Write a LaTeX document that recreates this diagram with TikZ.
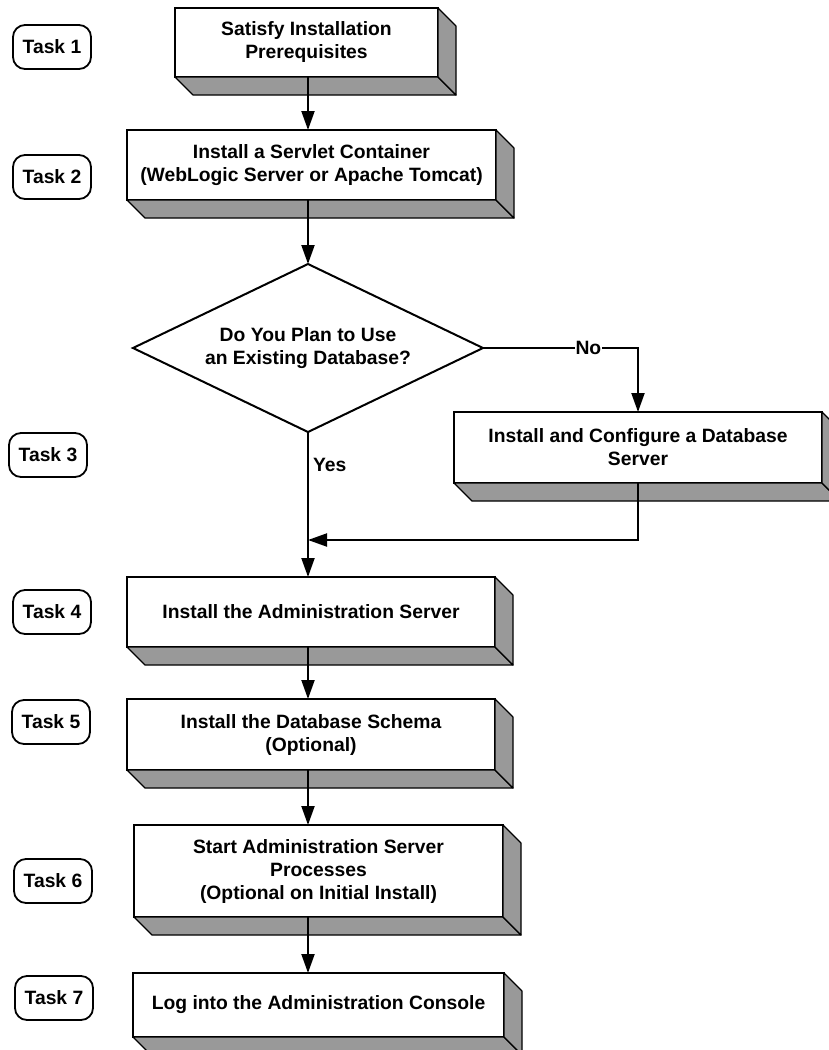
\documentclass[tikz,border=0pt]{standalone}
\usepackage{fontspec}
\setmainfont{Liberation Sans}
\usetikzlibrary{shapes.geometric,arrows.meta}
\definecolor{bevelgray}{HTML}{999999}
\newcommand{\slab}[1]{%
	\filldraw[fill=bevelgray, line width=1.2pt, line join=round] (#1.south west) -- (#1.south east) -- ([shift={(18,18)}]#1.south east) -- ([shift={(18,18)}]#1.south west) -- cycle;
	\filldraw[fill=bevelgray, line width=1.2pt, line join=round] (#1.north east) -- ([shift={(18,18)}]#1.north east) -- ([shift={(18,18)}]#1.south east) -- (#1.south east) -- cycle;
}
\begin{document}
\begin{tikzpicture}[x=1pt, y=-1pt,
	txt/.style={font=\fontsize{19.3}{23}\selectfont\bfseries, align=center},
	taskbox/.style={txt, draw, fill=white, line width=1.2pt, outer sep=0pt, inner sep=0pt},
	tasktag/.style={txt, draw, line width=1.8pt, rounded corners=12pt, minimum width=78pt, minimum height=44pt, inner sep=0pt},
	conn/.style={line width=2pt, -{Triangle[width=13pt,length=19pt]}}]
		\useasboundingbox (0,0) rectangle (829,1050);
		\node[taskbox, minimum width=263pt, minimum height=69pt] (b1) at (306.5,42.5) {Satisfy Installation\\Prerequisites};
		\node[taskbox, minimum width=369pt, minimum height=70pt] (b2) at (311.5,165) {Install a Servlet Container\\(WebLogic Server or Apache Tomcat)};
		\node[txt, diamond, draw, line width=2pt, aspect=2.08, minimum width=350pt, minimum height=168pt, inner sep=0pt, outer sep=0pt] (dia) at (308,348) {Do You Plan to Use\\an Existing Database?};
		\node[taskbox, minimum width=368pt, minimum height=71pt] (b4) at (638,447.5) {Install and Configure a Database\\Server};
		\node[taskbox, minimum width=368pt, minimum height=70pt] (b5) at (311,612) {Install the Administration Server};
		\node[taskbox, minimum width=368pt, minimum height=71pt] (b6) at (311,734.5) {Install the Database Schema\\(Optional)};
		\node[taskbox, minimum width=369pt, minimum height=92pt] (b7) at (318.5,871) {Start Administration Server\\Processes\\(Optional on Initial Install)};
		\node[taskbox, minimum width=371pt, minimum height=64pt] (b8) at (318.5,1005) {Log into the Administration Console};
		\slab{b1}
		\slab{b2}
		\slab{b4}
		\slab{b5}
		\slab{b6}
		\slab{b7}
		\slab{b8}
		\node[tasktag] (t1) at (52,47) {Task 1};
		\node[tasktag] (t2) at (52,177) {Task 2};
		\node[tasktag] (t3) at (48,455) {Task 3};
		\node[tasktag] (t4) at (52,612) {Task 4};
		\node[tasktag] (t5) at (51,722) {Task 5};
		\node[tasktag] (t6) at (53,881) {Task 6};
		\node[tasktag] (t7) at (54,998) {Task 7};
		\coordinate (join) at (308,540);
		\draw[conn] (b1.south -| dia.north) -- (b2.north -| dia.north);
		\draw[conn] (b2.south -| dia.north) -- (dia.north);
		\draw[conn] (dia.east) -| node[txt, fill=white, inner sep=1pt, pos=0.34] (no) {No} (b4.north);
		\draw[conn] (dia.south) -- node[txt, anchor=west, inner sep=4pt, pos=0.23] (yes) {Yes} (b5.north -| dia.south);
		\draw[conn] (b4.south) |- (join);
		\draw[conn] (b5.south -| dia.south) -- (b6.north -| dia.south);
		\draw[conn] (b6.south -| dia.south) -- (b7.north -| dia.south);
		\draw[conn] (b7.south -| dia.south) -- (b8.north -| dia.south);
\end{tikzpicture}
\end{document}
